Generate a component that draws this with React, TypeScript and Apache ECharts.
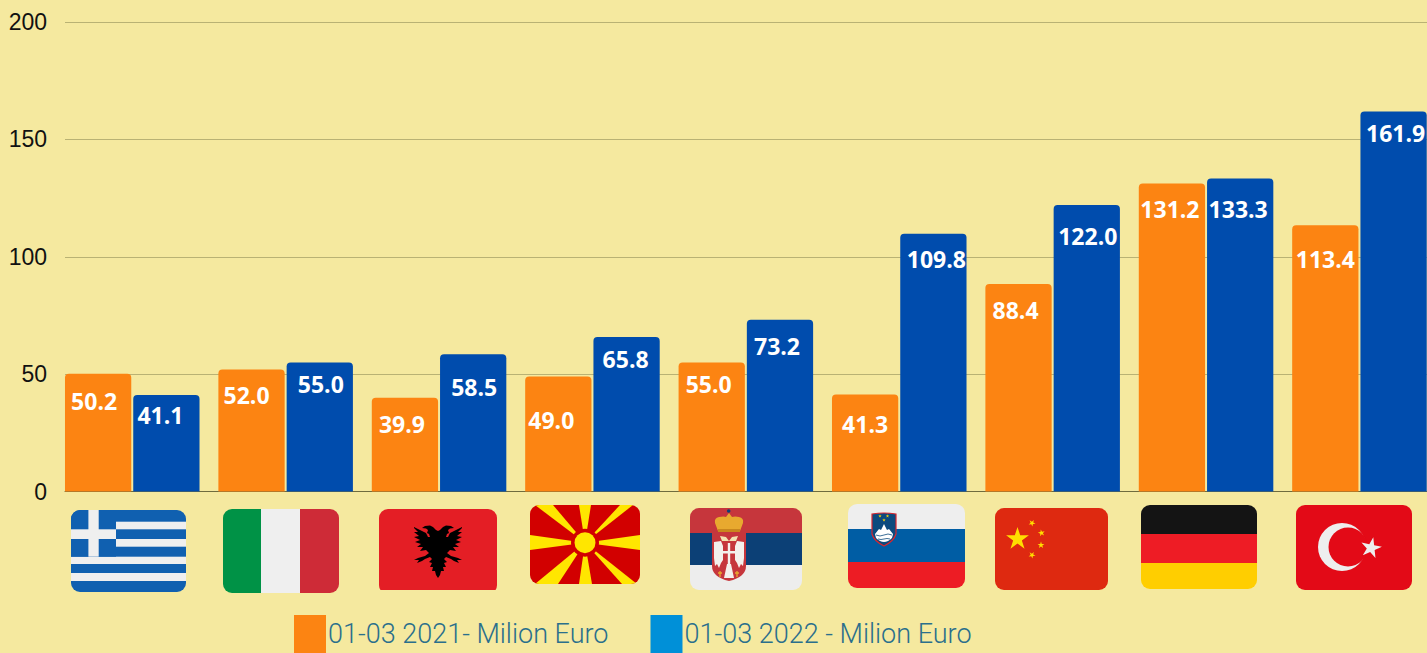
import React, { useEffect, useRef } from "react";
import * as echarts from "echarts";

const countries = ["Greece", "Italy", "Albania", "North Macedonia", "Serbia", "Slovenia", "China", "Germany", "Turkey"];
const values2021 = [50.2, 52.0, 39.9, 49.0, 55.0, 41.3, 88.4, 131.2, 113.4];
const values2022 = [41.1, 55.0, 58.5, 65.8, 73.2, 109.8, 122.0, 133.3, 161.9];
const name2021 = "01-03 2021- Milion Euro";
const name2022 = "01-03 2022 - Milion Euro";

// Hand placement of the value labels, as in the reference
const nudge2021 = [[-4, 16], [-5, 14], [-3, 15], [-7, 32], [-3, 10], [0, 18], [-3, 15], [-2, 14], [0, 22]];
const nudge2022 = [[-6, 8], [1, 10], [1, 21], [-1, 10], [-3, 15], [3, 14], [1, 19], [-2, 19], [2, 10]];

const star = (cx: number, cy: number, R: number, fill: string, rot = -90) => {
  const pts: string[] = [];
  for (let i = 0; i < 10; i++) {
    const r = i % 2 ? R * 0.382 : R;
    const a = ((rot + i * 36) * Math.PI) / 180;
    pts.push(`${(cx + r * Math.cos(a)).toFixed(2)},${(cy + r * Math.sin(a)).toFixed(2)}`);
  }
  return `<polygon points="${pts.join(" ")}" fill="${fill}"/>`;
};

const macedoniaRays = [
  [49, 0, 61, 0], [49, 79, 62, 79], [0, 30, 0, 45], [110, 30, 110, 45],
  [5, 0, 23, 0], [90, 0, 103, 0], [5, 79, 28, 79], [92, 79, 107, 79],
];
const rays = () =>
  macedoniaRays.map(([a, b, c, d]) => `<polygon points="55,37.7 ${a},${b} ${c},${d}" fill="#FFE600"/>`).join("");

const eagleHalf =
  "M0 22L2 21L5 18L8 16.5L13 17L16 19L12 19.5L10 21L11 24L9 25L8 28L10 28L12 24L24 18L24 19L20 23L24 23L19 27L24 28L18 31L23 33L17 35L21 38L15 38L18 42L12 41L9 44L13 47L20 49L24 51L19 51L21 54L16 52L13 50L8 48L6 50L9 53L6 54L8 58L5 58L6 62L3 62L2 66L0 69Z";
const serbWing = "M24 34L31 33L33 38L33 52L31 55L29 60L27 56L25 58L24 50Z";
const greekWhite = [[11.7, 7.6], [29, 7.7], [46.7, 7.3], [63, 8]];

type Flag = { x: number; y: number; w: number; h: number; body: string; clipH?: number };

const flags: Flag[] = [
  {
    x: 71, y: 510, w: 115, h: 82,
    body:
      `<rect width="115" height="82" fill="#1060B0"/>` +
      greekWhite.map(([y, h]) => `<rect y="${y}" width="115" height="${h}" fill="#EFEFEF"/>`).join("") +
      `<rect width="45" height="46.7" fill="#1060B0"/><rect x="17.4" width="10.3" height="46.7" fill="#EFEFEF"/><rect y="19.3" width="45" height="9.7" fill="#EFEFEF"/>`,
  },
  {
    x: 223, y: 509, w: 116, h: 84,
    body: `<rect width="39" height="84" fill="#009246"/><rect x="38" width="40" height="84" fill="#EFEFEF"/><rect x="77" width="39" height="84" fill="#CE2B37"/>`,
  },
  {
    x: 379, y: 509, w: 118, h: 81, clipH: 85,
    body:
      `<rect width="118" height="85" fill="#E41E25"/>` +
      `<g transform="translate(59 0)"><path d="${eagleHalf}" fill="#000"/><path d="${eagleHalf}" fill="#000" transform="scale(-1 1)"/></g>`,
  },
  {
    x: 530, y: 505, w: 110, h: 79,
    body:
      `<rect width="110" height="79" fill="#D20000"/>` +
      rays() +
      `<circle cx="55" cy="37.7" r="14" fill="#D20000"/><circle cx="55" cy="37.7" r="10.5" fill="#FFE600"/>`,
  },
  {
    x: 690, y: 508, w: 112, h: 82,
    body:
      `<rect width="112" height="26" fill="#C6363C"/><rect y="25" width="112" height="32" fill="#0C4076"/><rect y="57" width="112" height="25" fill="#EDEDED"/>` +
      `<path d="M22 24H56V58Q56 69 39 73Q22 69 22 58Z" fill="#C6363C"/>` +
      `<path d="M28 23L25 15Q24 10 29 9Q34 8 36 9L39 5L42 9Q45 8 49 9Q54 10 53 15L50 23Z" fill="#E8A92F"/>` +
      `<rect x="28" y="21" width="22" height="3" fill="#C9861D"/><circle cx="38.700" cy="3" r="1.800" fill="#0C4076"/>` +
      `<path d="${serbWing}" fill="#F4F0EC"/><path d="${serbWing}" fill="#F4F0EC" transform="translate(78 0) scale(-1 1)"/>` +
      `<path d="M30 28L36 29L39 33L42 29L48 28L46 33L32 33Z" fill="#F3E2B0"/>` +
      `<path d="M33 35H45V50Q45 54 39 56Q33 54 33 50Z" fill="#C6363C"/><path d="M37.800 35H40.200V56H37.800ZM33 43H45V45.500H33Z" fill="#F4F0EC"/>` +
      `<path d="M37 56H41L44 70H34Z" fill="#F4F0EC"/>` +
      `<path d="M30 63V69M28 65H32M47 63V69M45 65H49" stroke="#E8A92F" stroke-width="1.300"/>`,
  },
  {
    x: 848, y: 504, w: 117, h: 84,
    body:
      `<rect width="117" height="26" fill="#EEEEEE"/><rect y="25" width="117" height="33" fill="#005DA4"/><rect y="58" width="117" height="26" fill="#ED1C24"/>` +
      `<path d="M24 10Q36 8 48 10L48 30Q46 37 36 42Q26 37 24 30Z" fill="#0C4A7E" stroke="#D8262E" stroke-width="1.200"/>` +
      `<path d="M27 30L31 25L33 26L36 20L39 26L41 25L45 30L44 34Q40 38 36 38Q32 38 28 34Z" fill="#FFFFFF"/>` +
      `<path d="M28 31Q32 33 36 31T44 31M30 35Q33 36 36 35T42 35" fill="none" stroke="#0C4A7E" stroke-width="0.800"/>` +
      star(32, 12, 1.800, "#FFD500") + star(39.5, 12, 1.800, "#FFD500") + star(36, 16, 1.800, "#FFD500"),
  },
  {
    x: 995, y: 508, w: 113, h: 82,
    body:
      `<rect width="113" height="82" fill="#DE2910"/>` +
      star(22.5, 31, 12, "#FFDE00") +
      star(37, 15, 3.6, "#FFDE00", -60) + star(46.5, 25, 3.6, "#FFDE00", -30) + star(46, 37, 3.6, "#FFDE00", -90) + star(37, 47, 3.6, "#FFDE00", -60),
  },
  {
    x: 1141, y: 505, w: 116, h: 84,
    body: `<rect width="116" height="30" fill="#141414"/><rect y="29" width="116" height="30" fill="#EE1C25"/><rect y="58" width="116" height="26" fill="#FFCE00"/>`,
  },
  {
    x: 1296, y: 505, w: 116, h: 85,
    body:
      `<rect width="116" height="85" fill="#E30A17"/><circle cx="46" cy="42" r="24" fill="#EEEEEE"/><circle cx="52" cy="42" r="19.500" fill="#E30A17"/>` +
      star(75, 43, 11, "#EEEEEE", -150),
  },
];

const flagUri = (f: Flag, i: number) => {
  const svg =
    `<svg xmlns="http://www.w3.org/2000/svg" width="${f.w}" height="${f.h}" viewBox="0 0 ${f.w} ${f.h}">` +
    `<defs><clipPath id="c${i}"><rect width="${f.w}" height="${f.clipH ?? f.h}" rx="9" ry="9"/></clipPath></defs>` +
    `<g clip-path="url(#c${i})">${f.body}</g></svg>`;
  return "data:image/svg+xml;charset=utf-8," + encodeURIComponent(svg);
};

const labelFor = (nudge: number[][]) => (v: number, i: number) => ({
  value: v,
  label: { offset: nudge[i] },
});

export default function App() {
  const ref = useRef<HTMLDivElement>(null);
  useEffect(() => {
    document.body.style.margin = "0";
    const chart = echarts.init(ref.current!, null, { renderer: "svg" });
    const barLabel = {
      show: true,
      position: "insideTop" as const,
      distance: 0,
      color: "#FFFFFF",
      fontFamily: "Open Sans",
      fontWeight: "bold" as const,
      fontSize: 23,
      formatter: (p: any) => Number(p.value).toFixed(1),
    };
    const yBase = { type: "value" as const, min: 0, max: 200, interval: 50 };
    chart.setOption({
      animation: false,
      backgroundColor: "#F5E99F",
      grid: [
        { left: 65, right: 0, top: 22, height: 469.5, outerBoundsMode: "none" },
        { left: 55.55, width: 1380.6, top: 22, height: 469.5, outerBoundsMode: "none" },
      ],
      xAxis: [
        {
          gridIndex: 0,
          type: "category",
          data: countries,
          axisTick: { show: false },
          axisLabel: { show: false },
          axisLine: { show: true, lineStyle: { color: "#6F6C3E", width: 1 } },
        },
        {
          gridIndex: 1,
          type: "category",
          data: countries,
          axisTick: { show: false },
          axisLabel: { show: false },
          axisLine: { show: false },
        },
      ],
      yAxis: [
        {
          ...yBase,
          gridIndex: 0,
          axisLine: { show: false },
          axisTick: { show: false },
          axisLabel: { color: "#111111", fontFamily: "Liberation Sans", fontSize: 23, margin: 18 },
          splitLine: { show: true, lineStyle: { color: "#B9B274", width: 1 } },
        },
        {
          ...yBase,
          gridIndex: 1,
          axisLine: { show: false },
          axisTick: { show: false },
          axisLabel: { show: false },
          splitLine: { show: false },
        },
      ],
      legend: {
        left: 294,
        top: 615,
        padding: 0,
        itemWidth: 32,
        itemHeight: 38,
        itemGap: 42,
        icon: "rect",
        selectedMode: false,
        textStyle: {
          color: "#2A6F8C",
          fontFamily: "Roboto",
          fontWeight: 300,
          fontSize: 27,
          padding: [0, 0, 0, -3],
        },
        data: [
          { name: name2021, itemStyle: { color: "#FC8412" } },
          { name: name2022, itemStyle: { color: "#0090D8" } },
        ],
      },
      series: [
        {
          name: name2021,
          type: "bar",
          xAxisIndex: 1,
          yAxisIndex: 1,
          barGap: "3%",
          barCategoryGap: "12.3%",
          itemStyle: { color: "#FC8412", borderRadius: [4, 4, 0, 0] },
          label: barLabel,
          data: values2021.map(labelFor(nudge2021)),
        },
        {
          name: name2022,
          type: "bar",
          xAxisIndex: 1,
          yAxisIndex: 1,
          barGap: "3%",
          barCategoryGap: "12.3%",
          itemStyle: { color: "#004CAD", borderRadius: [4, 4, 0, 0] },
          label: barLabel,
          data: values2022.map(labelFor(nudge2022)),
        },
      ],
      graphic: flags.map((f, i) => ({
        type: "image",
        x: f.x,
        y: f.y,
        silent: true,
        style: { image: flagUri(f, i), width: f.w, height: f.h },
      })),
    });
    return () => chart.dispose();
  }, []);
  return <div ref={ref} style={{ width: 1427, height: 653 }} />;
}
